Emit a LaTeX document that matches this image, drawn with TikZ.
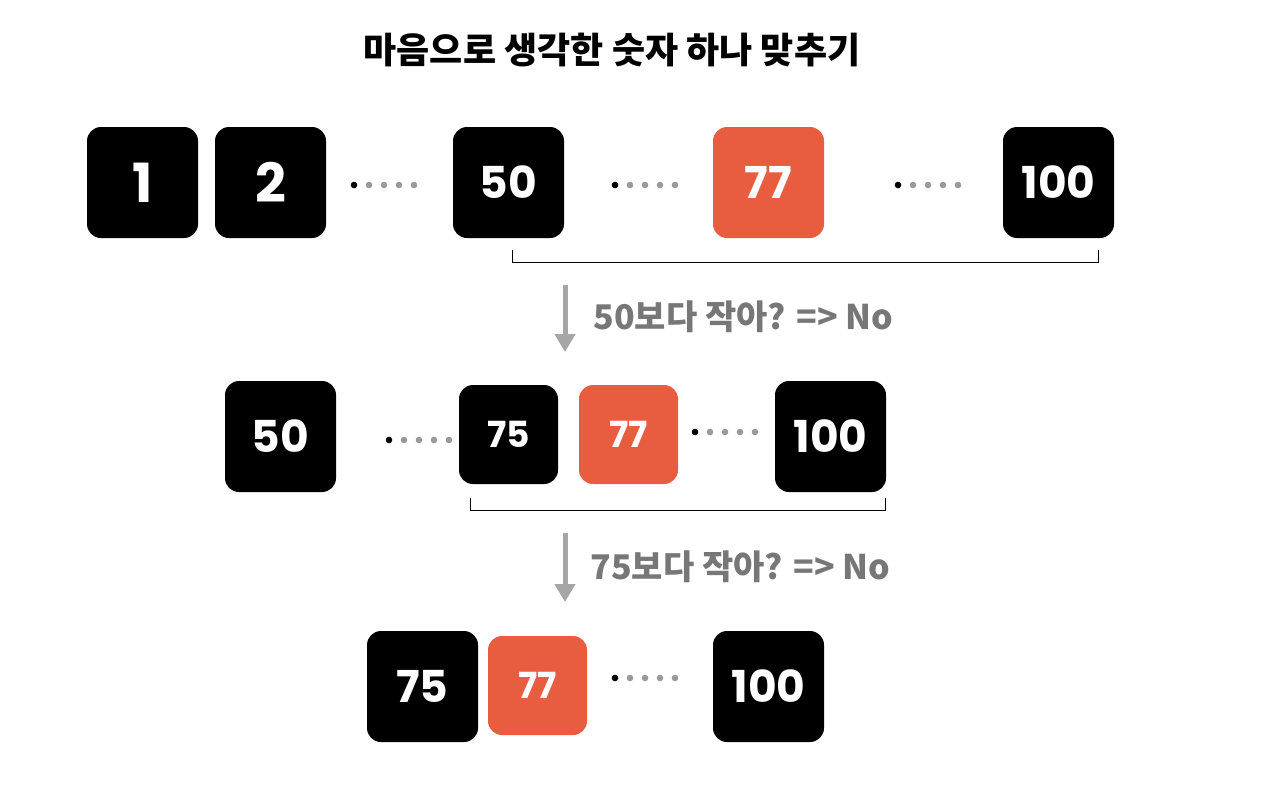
\documentclass[tikz,border=0pt]{standalone}
\usepackage{fontspec}
\newfontfamily\pop{Poppins}
\newfontfamily\kr{Noto Sans CJK KR}
\definecolor{org}{HTML}{E85D40}
\definecolor{dgray}{HTML}{777777}
\tikzset{x=1pt,y=-1pt,
 bx/.style={fill=black,rounded corners=14pt,minimum size=111pt,inner sep=0pt,text=white,font=\pop\bfseries\fontsize{44}{44}\selectfont},
 sbx/.style={bx,minimum size=99pt,font=\pop\bfseries\fontsize{36}{36}\selectfont},
 ob/.style={fill=org},
 lbl/.style={text=dgray,font=\kr\bfseries\fontsize{34}{34}\selectfont,anchor=west},
 arr/.style={draw=gray!70,line width=5pt,-{Triangle[length=18pt,width=20pt]}},
 brk/.style={draw=black,line width=1pt}}
\usetikzlibrary{arrows.meta}
\newcommand{\mydots}[2]{\fill[black] (#1,#2) circle (3.3pt);
 \foreach \i in {1,...,4}{\fill[gray!80] ({#1+\i*15},#2) circle (3.3pt);}}
\begin{document}
\begin{tikzpicture}
\useasboundingbox (0,0) rectangle (1280,785);
\node[font=\kr\bfseries\fontsize{36}{36}\selectfont] (title) at (612,50) {마음으로 생각한 숫자 하나 맞추기};
% row 1
\node[bx,font=\pop\bfseries\fontsize{54}{54}\selectfont] (a1) at (142.5,182.5) {1};
\node[bx,font=\pop\bfseries\fontsize{54}{54}\selectfont] (a2) at (270.5,182.5) {2};
\node[bx] (a50) at (508.5,182.5) {50};
\node[bx,ob] (a77) at (768.5,182.5) {77};
\node[bx] (a100) at (1058.5,182.5) {100};
\mydots{354}{185}
\mydots{615}{185}
\mydots{898}{185}
\coordinate (b1) at (512,250); \coordinate (b2) at (1098,250);
\draw[brk] (b1) -- ++(0,12) -| (b2);
\coordinate (s1) at (565,285); \coordinate (e1) at (565,352);
\draw[arr] (s1) -- (e1);
\node[lbl] (l1) at (590,317) {50보다 작아? => No};
% row 2
\node[bx] (c50) at (280.5,436.5) {50};
\mydots{389}{440}
\node[sbx] (c75) at (508.5,434.5) {75};
\node[sbx,ob] (c77) at (628.5,434.5) {77};
\mydots{695}{432}
\node[bx] (c100) at (830.5,436.5) {100};
\coordinate (b3) at (470,498); \coordinate (b4) at (885,498);
\draw[brk] (b3) -- ++(0,12) -| (b4);
\coordinate (s2) at (565,533); \coordinate (e2) at (565,602);
\draw[arr] (s2) -- (e2);
\node[lbl] (l2) at (587,567) {75보다 작아? => No};
% row 3
\node[bx] (d75) at (422.5,686.5) {75};
\node[sbx,ob] (d77) at (537.5,685.5) {77};
\mydots{615}{678}
\node[bx] (d100) at (768.5,686.5) {100};
\end{tikzpicture}
\end{document}
